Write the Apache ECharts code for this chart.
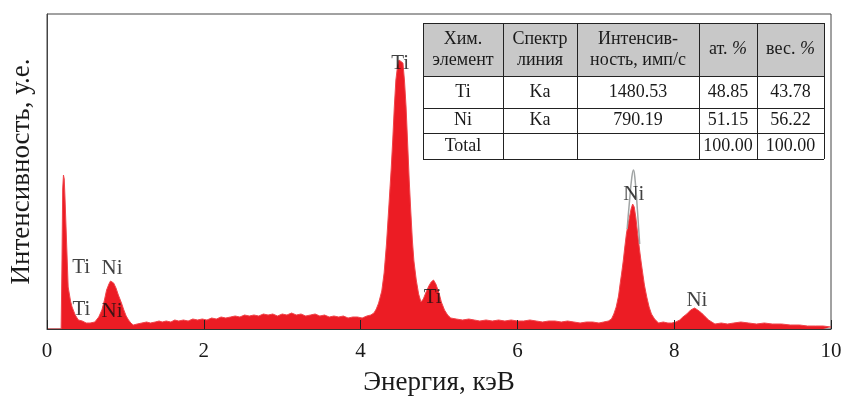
<!DOCTYPE html>
<html>
<head>
<meta charset="utf-8">
<script src="https://cdn.jsdelivr.net/npm/echarts@6/dist/echarts.min.js"></script>
<style>html,body{margin:0;padding:0;background:#fff;}#c{width:843px;height:396px;}</style>
</head>
<body>
<div id="c"></div>
<script>
// Spectrum (energy, keV) and intensity (arb. units)
var energy = [0.00,0.18,0.19,0.20,0.21,0.22,0.23,0.25,0.27,0.30,0.32,0.36,0.40,0.45,0.50,0.55,0.61,0.66,0.70,0.73,0.76,0.79,0.81,0.83,0.85,0.88,0.91,0.95,0.98,1.01,1.04,1.07,1.10,1.15,1.21,1.27,1.32,1.38,1.43,1.47,1.52,1.58,1.63,1.68,1.74,1.80,1.86,1.92,1.98,2.04,2.10,2.16,2.22,2.28,2.34,2.40,2.46,2.52,2.58,2.64,2.70,2.76,2.82,2.88,2.94,3.00,3.06,3.12,3.18,3.24,3.30,3.36,3.42,3.48,3.54,3.60,3.66,3.72,3.78,3.84,3.90,3.96,4.02,4.08,4.13,4.17,4.20,4.23,4.27,4.30,4.33,4.36,4.39,4.41,4.43,4.45,4.47,4.49,4.51,4.54,4.56,4.58,4.60,4.62,4.64,4.66,4.68,4.71,4.74,4.77,4.80,4.83,4.87,4.90,4.93,4.96,5.00,5.03,5.07,5.11,5.15,5.22,5.30,5.38,5.45,5.52,5.60,5.68,5.76,5.84,5.92,6.00,6.08,6.16,6.24,6.32,6.40,6.48,6.56,6.64,6.72,6.80,6.88,6.96,7.04,7.10,7.16,7.20,7.23,7.26,7.29,7.31,7.33,7.35,7.37,7.39,7.41,7.43,7.45,7.47,7.49,7.51,7.53,7.56,7.58,7.60,7.62,7.65,7.68,7.71,7.75,7.80,7.86,7.92,7.97,8.02,8.07,8.11,8.16,8.21,8.26,8.30,8.35,8.40,8.44,8.48,8.52,8.60,8.68,8.76,8.85,8.95,9.05,9.15,9.25,9.37,9.48,9.60,9.70,9.80,9.90,10.00];
var intensity = [0,0,60,140,154,150,130,86,42,28,22,14,9,8,6,6,7,12,19,28,39,45,48,48,46,41,34,26,19,13,9,6,4,5,6,7,6,7,8,7,8,7,9,8,9,8,10,9,10,9,11,10,12,11,12,13,12,14,13,14,13,15,14,15,13,15,14,16,14,15,13,14,15,13,14,12,13,12,13,11,12,12,11,13,14,16,20,26,38,56,85,122,160,189,222,249,262,269,271,266,248,222,186,149,118,89,68,49,35,27,30,36,43,47,49,45,36,27,19,14,11,10,9,10,9,8,9,8,9,8,9,8,8,9,8,7,8,8,7,8,7,6,7,7,6,7,8,10,15,22,33,45,56,68,82,95,104,112,120,125,122,112,98,78,66,55,44,32,22,15,10,6,7,6,6,7,9,12,15,19,21,19,16,12,9,7,5,6,5,6,7,6,5,6,5,5,4,4,3,3,3,2];
// Fitted Ni Ka profile visible above the measured peak (grey outline)
var fitEnergy = [7.40,7.43,7.46,7.48,7.50,7.53,7.56];
var fitIntensity = [100,128,152,159,150,120,85];
// Peak annotations
var peakNames = ['Ti','Ni','Ti','Ni','Ti','Ti','Ni','Ni'];
var peakEnergy = [0.435,0.83,0.44,0.83,4.505,4.92,7.485,8.29];
var peakHeight = [62,61,20,18,266,32,135,29];
// Table
var tableHeader = ['Хим.\nэлемент','Спектр\nлиния','Интенсив-\nность, имп/с','ат. {i|%}','вес. {i|%}'];
var tableRows = [
  ['Ti','Ka','1480.53','48.85','43.78'],
  ['Ni','Ka','790.19','51.15','56.22'],
  ['Total','','','100.00','100.00']
];
var xTicks = [0,2,4,6,8,10];

var serif = 'Liberation Serif, Times New Roman, serif';
var chart = echarts.init(document.getElementById('c'), null, {renderer:'canvas'});

var spec = energy.map(function(e,i){return [e,intensity[i]];});
var fit = fitEnergy.map(function(e,i){return [e,fitIntensity[i]];});
var labels = peakNames.map(function(n,i){return {name:n, value:[peakEnergy[i],peakHeight[i]]};});

// table graphics
var colX = [423,503,577,699,757,824];
var rowY = [23,76,108,133,159];
var g = [];
g.push({type:'rect', shape:{x:colX[0],y:rowY[0],width:colX[5]-colX[0],height:rowY[1]-rowY[0]}, style:{fill:'#c8c8c8'}, z:10});
g.push({type:'rect', shape:{x:colX[0],y:rowY[1],width:colX[5]-colX[0],height:rowY[4]-rowY[1]}, style:{fill:'#ffffff'}, z:10});
for (var r=0;r<rowY.length;r++){
  g.push({type:'line', shape:{x1:colX[0],y1:rowY[r]+0.5,x2:colX[5],y2:rowY[r]+0.5}, style:{stroke:'#222',lineWidth:1}, z:11});
}
for (var c=0;c<colX.length;c++){
  g.push({type:'line', shape:{x1:colX[c]+0.5,y1:rowY[0],x2:colX[c]+0.5,y2:rowY[4]}, style:{stroke:'#222',lineWidth:1}, z:11});
}
for (var c=0;c<5;c++){
  g.push({type:'text', x:(colX[c]+colX[c+1])/2, y:(rowY[0]+rowY[1])/2, style:{text:tableHeader[c], font:'18px '+serif, fill:'#1a1a1a', align:'center', verticalAlign:'middle', lineHeight:21,
    rich:{i:{fontFamily:serif, fontSize:18, fontStyle:'italic', fill:'#1a1a1a'}}}, z:12});
}
for (var r=0;r<tableRows.length;r++){
  for (var c=0;c<5;c++){
    g.push({type:'text', x:(colX[c]+colX[c+1])/2, y:(rowY[r+1]+rowY[r+2])/2, style:{text:tableRows[r][c], font:'18px '+serif, fill:'#1a1a1a', align:'center', verticalAlign:'middle'}, z:12});
  }
}

chart.setOption({
  animation:false,
  backgroundColor:'#fff',
  grid:{left:47,right:12,top:14,bottom:67,show:true,borderColor:'#444',borderWidth:1,backgroundColor:'transparent',outerBoundsMode:'none',containLabel:false},
  xAxis:{
    type:'value', min:0, max:10, interval:2, z:5,
    name:'Энергия, кэВ', nameLocation:'middle', nameGap:40,
    nameTextStyle:{fontFamily:serif, fontSize:27, color:'#1a1a1a'},
    axisLine:{show:true, lineStyle:{color:'#333', width:1}},
    axisTick:{show:true, inside:true, length:9, lineStyle:{color:'#222', width:1}},
    axisLabel:{fontFamily:serif, fontSize:21, color:'#1a1a1a', margin:12,
      formatter:function(v){return xTicks.indexOf(v)>=0 ? String(v) : '';}},
    splitLine:{show:false}
  },
  yAxis:{
    type:'value', min:0, max:315, z:5,
    name:'Интенсивность, у.е.', nameLocation:'middle', nameGap:12, nameRotate:90,
    nameTextStyle:{fontFamily:serif, fontSize:27, color:'#1a1a1a'},
    axisLine:{show:true, lineStyle:{color:'#444', width:1}},
    axisTick:{show:false}, axisLabel:{show:false}, splitLine:{show:false}
  },
  series:[
    {type:'line', data:spec, showSymbol:false, symbol:'none', sampling:'none',
     lineStyle:{color:'#f0454b', width:1}, areaStyle:{color:'#ec1c24', opacity:1}, z:2},
    {type:'line', data:fit, showSymbol:false, symbol:'none', smooth:true,
     lineStyle:{color:'#a0a4a4', width:1.5}, z:3},
    {type:'scatter', data:labels, symbolSize:0, z:6,
     label:{show:true, position:'inside', formatter:'{b}', fontFamily:serif, fontSize:21, color:'#111'}}
  ],
  graphic:g
});
</script>
</body>
</html>
